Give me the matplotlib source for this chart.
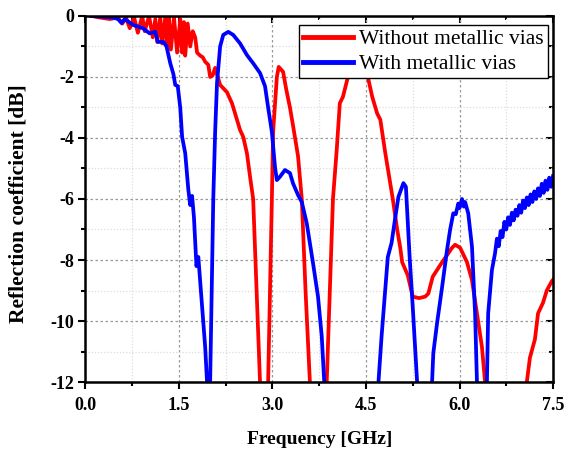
import matplotlib.pyplot as plt
from matplotlib.ticker import MultipleLocator

# S11 without metallic vias (GHz, dB)
freq_no_vias = [0.10, 0.23, 0.39, 0.52, 0.59, 0.65, 0.71, 0.78, 0.84, 0.91,
                0.95, 1.02, 1.08, 1.12, 1.15, 1.20, 1.23, 1.28, 1.31, 1.34,
                1.37, 1.42, 1.47, 1.52, 1.55, 1.58, 1.60, 1.64, 1.68, 1.72,
                1.76, 1.79, 1.84, 1.88, 1.92, 1.97, 2.00, 2.04, 2.08, 2.16,
                2.27, 2.35, 2.43, 2.48, 2.53, 2.59, 2.64, 2.69, 2.80, 2.86,
                2.93, 2.99, 3.01, 3.07, 3.10, 3.17, 3.22, 3.28, 3.33, 3.41,
                3.47, 3.53, 3.60, 3.73, 3.87, 3.97, 4.03, 4.08, 4.13, 4.21,
                4.30, 4.38, 4.46, 4.53, 4.60, 4.68, 4.73, 4.81, 4.85, 4.93,
                5.00, 5.05, 5.08, 5.17, 5.25, 5.35, 5.45, 5.50, 5.57, 5.69,
                5.80, 5.88, 5.93, 6.01, 6.12, 6.20, 6.28, 6.36, 6.41, 6.75,
                7.08, 7.13, 7.21, 7.26, 7.34, 7.40, 7.48, 7.50]
s11_no_vias = [0.00, -0.05, -0.10, -0.05, -0.25, -0.05, -0.40, -0.05, -0.55, 0.00,
               -0.50, 0.00, -0.70, -0.10, -0.85, -0.05, -0.90, -0.05, -1.00, -0.05,
               -1.10, -0.05, -1.20, -0.10, -1.20, -0.20, -1.30, -0.25, -1.00, -0.50,
               -0.70, -1.20, -1.30, -1.35, -1.50, -1.60, -2.00, -1.95, -1.70, -2.26,
               -2.50, -2.86, -3.40, -3.74, -3.96, -4.50, -5.27, -6.00, -12.00, -16.00,
               -12.00, -6.00, -3.80, -2.00, -1.67, -1.83, -2.40, -3.00, -3.60, -4.60,
               -6.00, -9.00, -12.00, -16.00, -12.00, -6.00, -4.40, -2.86, -2.65, -2.00,
               -1.00, -0.60, -1.00, -2.00, -2.65, -3.20, -3.40, -4.50, -5.00, -6.00,
               -7.00, -7.60, -8.07, -8.50, -9.20, -9.25, -9.20, -9.10, -8.55, -8.17,
               -7.84, -7.60, -7.50, -7.60, -8.07, -8.66, -9.75, -10.85, -12.00, -20.00,
               -12.00, -11.20, -10.60, -9.75, -9.40, -9.00, -8.70, -8.65]

# S11 with metallic vias (GHz, dB)
freq_vias = [0.10, 0.30, 0.44, 0.52, 0.58, 0.63, 0.77, 0.92, 1.03, 1.12,
             1.16, 1.25, 1.30, 1.36, 1.41, 1.44, 1.48, 1.52, 1.55, 1.60,
             1.65, 1.68, 1.71, 1.74, 1.78, 1.81, 1.84, 1.92, 1.95, 1.97,
             2.00, 2.05, 2.08, 2.11, 2.16, 2.21, 2.29, 2.37, 2.48, 2.59,
             2.69, 2.80, 2.88, 2.93, 2.99, 3.04, 3.07, 3.12, 3.20, 3.28,
             3.33, 3.41, 3.47, 3.55, 3.65, 3.73, 3.79, 3.83, 3.86, 4.25,
             4.70, 4.75, 4.80, 4.85, 4.91, 4.97, 5.02, 5.10, 5.14, 5.20,
             5.25, 5.32, 5.45, 5.56, 5.58, 5.64, 5.72, 5.80, 5.85, 5.90,
             5.94, 5.98, 6.00, 6.04, 6.07, 6.09, 6.14, 6.20, 6.25, 6.28,
             6.36, 6.44, 6.46, 6.52, 6.57, 6.60, 6.63, 6.66, 6.69, 6.72,
             6.75, 6.78, 6.81, 6.84, 6.87, 6.90, 6.93, 6.96, 6.99, 7.02,
             7.05, 7.08, 7.11, 7.14, 7.17, 7.20, 7.23, 7.26, 7.29, 7.32,
             7.35, 7.38, 7.41, 7.44, 7.47, 7.50]
s11_vias = [0.00, -0.03, -0.05, -0.10, -0.23, -0.10, -0.30, -0.40, -0.57, -0.52,
            -0.85, -0.85, -1.00, -1.55, -1.90, -2.26, -2.30, -3.00, -3.96, -4.50,
            -5.70, -6.20, -5.90, -6.60, -8.20, -7.90, -8.70, -10.85, -12.00, -13.50,
            -12.00, -6.00, -3.80, -2.20, -1.00, -0.62, -0.52, -0.62, -0.90, -1.28,
            -1.55, -1.87, -2.30, -3.00, -3.80, -4.95, -5.38, -5.27, -5.05, -5.15,
            -5.49, -5.87, -6.10, -6.80, -8.10, -9.20, -10.50, -12.00, -14.00, -25.00,
            -12.00, -10.50, -9.20, -7.90, -7.44, -6.60, -5.93, -5.48, -5.60, -7.90,
            -9.54, -12.00, -18.00, -12.00, -11.05, -10.07, -8.90, -7.67, -7.00, -6.47,
            -6.50, -6.15, -6.30, -6.00, -6.25, -6.10, -6.47, -7.56, -9.75, -12.00,
            -18.00, -12.00, -9.75, -8.33, -7.78, -7.30, -7.55, -7.05, -7.25, -6.75,
            -7.00, -6.60, -6.85, -6.45, -6.70, -6.35, -6.55, -6.20, -6.45, -6.05,
            -6.30, -5.95, -6.20, -5.85, -6.10, -5.75, -6.00, -5.65, -5.90, -5.50,
            -5.80, -5.40, -5.70, -5.30, -5.60, -5.25]

x_ticks = [0.0, 1.5, 3.0, 4.5, 6.0, 7.5]
y_ticks = [0, -2, -4, -6, -8, -10, -12]

plt.rcParams['font.family'] = ['Liberation Serif', 'DejaVu Serif']
plt.rcParams['axes.unicode_minus'] = False

fig = plt.figure(figsize=(5.68, 4.49), dpi=100)
ax = fig.add_axes([0.1505, 0.1492, 0.8231, 0.8152])

ax.plot(freq_no_vias, s11_no_vias, color='#ff0000', lw=2.7,
        label='Without metallic vias', solid_joinstyle='round')
ax.plot(freq_vias, s11_vias, color='#0000ff', lw=2.7,
        label='With metallic vias', solid_joinstyle='round')

ax.set_xlim(0, 7.5)
ax.set_ylim(-12, 0)
ax.set_xticks(x_ticks)
ax.set_yticks(y_ticks)
ax.set_xticklabels([f'{v:.1f}' for v in x_ticks], fontweight='bold', fontsize=13)
ax.set_yticklabels([f'{v:d}' for v in y_ticks], fontweight='bold', fontsize=13)
ax.xaxis.set_minor_locator(MultipleLocator(0.75))
ax.yaxis.set_minor_locator(MultipleLocator(1))

ax.grid(which='major', color='#999999', linestyle=(0, (2, 2)), lw=0.9)
ax.grid(which='minor', color='#dddddd', linestyle=(0, (1, 1.5)), lw=0.9)

ax.tick_params(which='major', direction='out', length=5, width=1.5)
ax.tick_params(which='minor', direction='out', length=3, width=1.5)
ax.tick_params(axis='x', pad=6)
ax.tick_params(axis='y', pad=3)

for side in ['left', 'right', 'top', 'bottom']:
    ax.spines[side].set_linewidth(1.8)

# mirrored ticks on top and right, pointing inward
top = ax.secondary_xaxis('top')
top.set_xticks(x_ticks)
top.xaxis.set_minor_locator(MultipleLocator(0.75))
top.tick_params(which='major', direction='in', length=5, width=1.5, labeltop=False)
top.tick_params(which='minor', direction='in', length=3, width=1.5)
right = ax.secondary_yaxis('right')
right.set_yticks(y_ticks)
right.yaxis.set_minor_locator(MultipleLocator(1))
right.tick_params(which='major', direction='in', length=5, width=1.5, labelright=False)
right.tick_params(which='minor', direction='in', length=3, width=1.5)

ax.set_xlabel('Frequency [GHz]', fontweight='bold', fontsize=14, labelpad=12)
ax.set_ylabel('Reflection coefficient [dB]', fontweight='bold', fontsize=15.5)
ax.yaxis.set_label_coords(-0.121, 0.486)

leg = ax.legend(loc='upper right', bbox_to_anchor=(0.9893, 0.9754), fontsize=15.5,
                frameon=True, fancybox=False, edgecolor='black', framealpha=1,
                handlelength=2.3, handletextpad=0.3, borderpad=0.2,
                labelspacing=0.22, borderaxespad=0)
leg.get_frame().set_linewidth(1.0)
for line in leg.get_lines():
    line.set_linewidth(3.5)

fig.savefig('out.png', dpi=100)
